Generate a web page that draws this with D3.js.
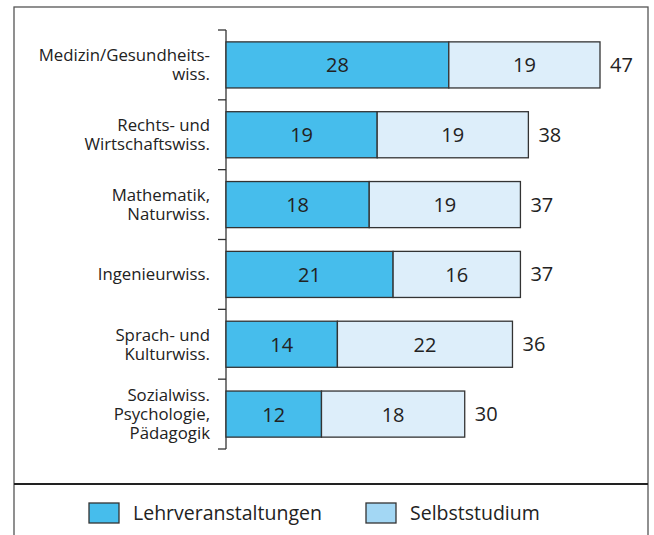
<!DOCTYPE html>
<html>
<head>
<meta charset="utf-8">
<script src="https://cdn.jsdelivr.net/npm/d3@7"></script>
<style>
  body { margin: 0; background: #fff; }
  svg { display: block; font-family: "Open Sans", "Noto Sans", sans-serif; }
</style>
</head>
<body>
<svg id="chart" width="654" height="535"></svg>
<script>
var categories = [
    ['Medizin/Gesundheits-', 'wiss.'],
    ['Rechts- und', 'Wirtschaftswiss.'],
    ['Mathematik,', 'Naturwiss.'],
    ['Ingenieurwiss.'],
    ['Sprach- und', 'Kulturwiss.'],
    ['Sozialwiss.', 'Psychologie,', 'Pädagogik']
];
var lehrveranstaltungen = [28, 19, 18, 21, 14, 12];
var selbststudium = [19, 19, 19, 16, 22, 18];
var totals = [47, 38, 37, 37, 36, 30];
var seriesNames = ['Lehrveranstaltungen', 'Selbststudium'];

var colDark = '#46bdec';
var colLight = '#ddeefa';
var colLegendLight = '#a3d7f4';

var svg = d3.select('#chart');

// frame + separator
svg.append('rect')
    .attr('x', 14).attr('y', 7).attr('width', 634).attr('height', 560)
    .attr('fill', 'none').attr('stroke', '#555').attr('stroke-width', 1.3);
svg.append('line')
    .attr('x1', 14).attr('x2', 648).attr('y1', 484).attr('y2', 484)
    .attr('stroke', '#222').attr('stroke-width', 2);

var idx = d3.range(categories.length);

var y = d3.scaleBand().domain(idx).range([30, 449]).paddingInner(0.34).paddingOuter(0.17);
var x = d3.scaleLinear().domain([0, 47]).range([226, 600]);

// axis with ticks between bands
var step = y.step();
var axis = svg.append('g');
axis.append('line')
    .attr('x1', 226).attr('x2', 226).attr('y1', 30).attr('y2', 449)
    .attr('stroke', '#333').attr('stroke-width', 1.3);
axis.selectAll('.tick').data(d3.range(categories.length + 1)).enter().append('line')
    .attr('x1', 218).attr('x2', 226)
    .attr('y1', function(d) { return 30 + d * step })
    .attr('y2', function(d) { return 30 + d * step })
    .attr('stroke', '#333').attr('stroke-width', 1.3);

// category labels
var lineH = 19;
svg.selectAll('.cat').data(idx).enter().append('text')
    .attr('class', 'cat')
    .attr('text-anchor', 'end')
    .attr('font-size', 16.8)
    .attr('fill', '#222')
    .each(function(i) {
        var lines = categories[i];
        var cy = y(i) + y.bandwidth() / 2;
        var t = d3.select(this);
        lines.forEach(function(l, k) {
            t.append('tspan')
                .attr('x', 210)
                .attr('y', cy + (k - (lines.length - 1) / 2) * lineH + 6)
                .text(l);
        });
    });

// bars
var rows = svg.selectAll('.row').data(idx).enter().append('g').attr('class', 'row');

rows.append('rect')
    .attr('x', x(0))
    .attr('y', function(i) { return y(i) })
    .attr('width', function(i) { return x(lehrveranstaltungen[i]) - x(0) })
    .attr('height', y.bandwidth())
    .attr('fill', colDark).attr('stroke', '#333').attr('stroke-width', 1.3);

rows.append('rect')
    .attr('x', function(i) { return x(lehrveranstaltungen[i]) })
    .attr('y', function(i) { return y(i) })
    .attr('width', function(i) { return x(lehrveranstaltungen[i] + selbststudium[i]) - x(lehrveranstaltungen[i]) })
    .attr('height', y.bandwidth())
    .attr('fill', colLight).attr('stroke', '#333').attr('stroke-width', 1.3);

rows.append('text')
    .attr('x', function(i) { return (x(0) + x(lehrveranstaltungen[i])) / 2 })
    .attr('y', function(i) { return y(i) + y.bandwidth() / 2 + 7.5 })
    .attr('text-anchor', 'middle').attr('font-size', 20).attr('fill', '#222')
    .text(function(i) { return lehrveranstaltungen[i] });

rows.append('text')
    .attr('x', function(i) { return (x(lehrveranstaltungen[i]) + x(lehrveranstaltungen[i] + selbststudium[i])) / 2 })
    .attr('y', function(i) { return y(i) + y.bandwidth() / 2 + 7.5 })
    .attr('text-anchor', 'middle').attr('font-size', 20).attr('fill', '#222')
    .text(function(i) { return selbststudium[i] });

rows.append('text')
    .attr('x', function(i) { return x(lehrveranstaltungen[i] + selbststudium[i]) + 10 })
    .attr('y', function(i) { return y(i) + y.bandwidth() / 2 + 7 })
    .attr('font-size', 20).attr('fill', '#222')
    .text(function(i) { return totals[i] });

// legend
var legendX = [89, 366];
var legendCols = [colDark, colLegendLight];
var leg = svg.selectAll('.leg').data(seriesNames).enter().append('g')
    .attr('transform', function(d, i) { return 'translate(' + legendX[i] + ',503)' });
leg.append('rect')
    .attr('width', 30).attr('height', 20)
    .attr('fill', function(d, i) { return legendCols[i] })
    .attr('stroke', '#333').attr('stroke-width', 1.3);
leg.append('text')
    .attr('x', 44).attr('y', 17)
    .attr('font-size', 19.5).attr('fill', '#222')
    .text(function(d) { return d });
</script>
</body>
</html>
